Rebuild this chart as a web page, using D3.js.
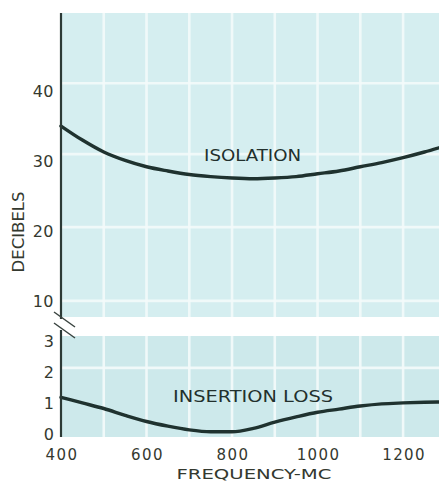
<!DOCTYPE html>
<html>
<head>
<meta charset="utf-8">
<script src="https://cdn.jsdelivr.net/npm/d3@7"></script>
<style>
  html, body { margin: 0; padding: 0; background: #ffffff; }
  svg { display: block; }
</style>
</head>
<body>
<svg id="chart" width="439" height="481"></svg>
<script>
// ---- data ----
const frequencies = [400, 450, 500, 550, 600, 650, 700, 750, 800, 850, 900, 950, 1000, 1050, 1100, 1150, 1200, 1250, 1284];
const isolation   = [35.0, 33.0, 31.3, 30.1, 29.2, 28.6, 28.1, 27.8, 27.6, 27.5, 27.6, 27.8, 28.2, 28.6, 29.2, 29.8, 30.5, 31.3, 31.9];
const insertionLoss = [1.18, 1.0, 0.82, 0.6, 0.4, 0.25, 0.13, 0.07, 0.07, 0.18, 0.38, 0.55, 0.7, 0.8, 0.9, 0.97, 1.0, 1.02, 1.03];

const xTicks = [400, 600, 800, 1000, 1200];
const xTickLabels = ["400", "600", "800", "1000", "1200"];
const xGrid = [500, 600, 700, 800, 900, 1000, 1100, 1200];
const topTicks = [10, 20, 30, 40];
const bottomTicks = [0, 1, 2, 3];
const topGrid = [41.1, 31.0, 20.6, 10.1];
const bottomGrid = [2.13];

const seriesLabels = ["ISOLATION", "INSERTION LOSS"];
const xTitle = "FREQUENCY-MC";
const yTitle = "DECIBELS";

// ---- layout ----
const svg = d3.select("#chart");
const left = 61, right = 439;
const topPanel = { y0: 13, y1: 317 };
const botPanel = { y0: 336, y1: 437 };

const x = d3.scaleLinear().domain([400, 1284]).range([left, right]);
const yTop = d3.scaleLinear().domain([7.8, 51.1]).range([topPanel.y1, topPanel.y0]);
const yBot = d3.scaleLinear().domain([-0.1, 3.16]).range([botPanel.y1, botPanel.y0]);

const textColor = "#34392f";
const lineColor = "#1f322f";
const font = "'DejaVu Sans', Verdana, sans-serif";

// panels
function panel(p, yScale, hGrid, fill) {
  svg.append("rect")
    .attr("x", left).attr("y", p.y0)
    .attr("width", right - left).attr("height", p.y1 - p.y0)
    .attr("fill", fill);
  const g = svg.append("g");
  g.selectAll("line.v").data(xGrid).enter().append("line")
    .attr("x1", d => x(d)).attr("x2", d => x(d))
    .attr("y1", p.y0).attr("y2", p.y1)
    .attr("stroke", "#f4fbfb").attr("stroke-width", 2.6).attr("opacity", 0.9);
  g.selectAll("line.h").data(hGrid).enter().append("line")
    .attr("x1", left).attr("x2", right)
    .attr("y1", d => yScale(d)).attr("y2", d => yScale(d))
    .attr("stroke", "#f4fbfb").attr("stroke-width", 2.6).attr("opacity", 0.9);
}
panel(topPanel, yTop, topGrid, "#d5eef0");
panel(botPanel, yBot, bottomGrid, "#cde9eb");

// curves
const lineTop = d3.line().x((d, i) => x(frequencies[i])).y(d => yTop(d)).curve(d3.curveMonotoneX);
const lineBot = d3.line().x((d, i) => x(frequencies[i])).y(d => yBot(d)).curve(d3.curveMonotoneX);

svg.append("path").datum(isolation).attr("d", lineTop)
  .attr("fill", "none").attr("stroke", lineColor).attr("stroke-width", 3.4)
  .attr("stroke-linecap", "round");
svg.append("path").datum(insertionLoss).attr("d", lineBot)
  .attr("fill", "none").attr("stroke", lineColor).attr("stroke-width", 3.4)
  .attr("stroke-linecap", "round");

// left axis lines
svg.append("line").attr("x1", left).attr("x2", left)
  .attr("y1", topPanel.y0).attr("y2", topPanel.y1 + 2)
  .attr("stroke", "#2c3a36").attr("stroke-width", 2.2);
svg.append("line").attr("x1", left).attr("x2", left)
  .attr("y1", botPanel.y0 - 6).attr("y2", botPanel.y1)
  .attr("stroke", "#2c3a36").attr("stroke-width", 2.2);

// break marks
[0, 11].forEach(off => {
  svg.append("line")
    .attr("x1", left - 7).attr("y1", topPanel.y1 - 5 + off)
    .attr("x2", left + 14).attr("y2", topPanel.y1 + 10 + off)
    .attr("stroke", "#3a4440").attr("stroke-width", 1.5);
});

// y tick labels
svg.selectAll("text.yt").data(topTicks).enter().append("text")
  .attr("x", 54).attr("y", d => yTop(d)).attr("dy", "0.36em")
  .attr("text-anchor", "end")
  .attr("font-family", font).attr("font-size", 16).attr("letter-spacing", 0.5)
  .attr("fill", textColor).text(d => d);
svg.selectAll("text.yb").data(bottomTicks).enter().append("text")
  .attr("x", 54).attr("y", d => yBot(d)).attr("dy", "0.36em")
  .attr("text-anchor", "end")
  .attr("font-family", font).attr("font-size", 16)
  .attr("fill", textColor).text(d => d);

// x tick labels
svg.selectAll("text.xt").data(xTicks).enter().append("text")
  .attr("x", d => x(d) + 1).attr("y", 460)
  .attr("text-anchor", "middle")
  .attr("font-family", font).attr("font-size", 15).attr("letter-spacing", 1.4)
  .attr("fill", textColor).text((d, i) => xTickLabels[i]);

// axis titles
svg.append("text")
  .attr("x", 254).attr("y", 479).attr("text-anchor", "middle")
  .attr("font-family", font).attr("font-size", 14)
  .attr("textLength", 155).attr("lengthAdjust", "spacingAndGlyphs")
  .attr("fill", textColor).text(xTitle);
svg.append("text")
  .attr("transform", "translate(24,232) rotate(-90)")
  .attr("text-anchor", "middle")
  .attr("font-family", font).attr("font-size", 15)
  .attr("textLength", 81).attr("lengthAdjust", "spacingAndGlyphs")
  .attr("fill", textColor).text(yTitle);

// series labels
svg.append("text")
  .attr("x", x(848)).attr("y", yTop(30.0)).attr("text-anchor", "middle")
  .attr("font-family", font).attr("font-size", 16)
  .attr("textLength", 97).attr("lengthAdjust", "spacingAndGlyphs")
  .attr("fill", "#22302d").text(seriesLabels[0]);
svg.append("text")
  .attr("x", x(849)).attr("y", yBot(1.03)).attr("text-anchor", "middle")
  .attr("font-family", font).attr("font-size", 16)
  .attr("textLength", 160).attr("lengthAdjust", "spacingAndGlyphs")
  .attr("fill", "#22302d").text(seriesLabels[1]);
</script>
</body>
</html>
